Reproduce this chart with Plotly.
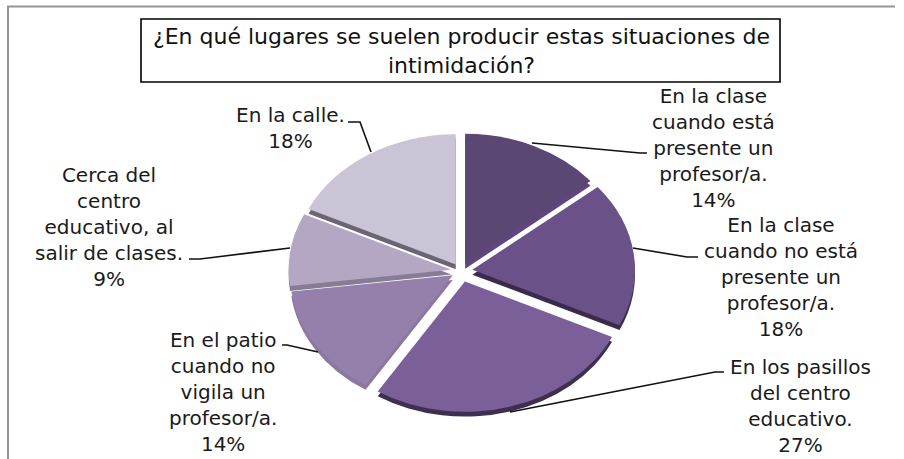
import plotly.graph_objects as go

W, H = 904, 459

# --- data ---
categories = [
    "En la clase cuando está presente un profesor/a.",
    "En la clase cuando no está presente un profesor/a.",
    "En los pasillos del centro educativo.",
    "En el patio cuando no vigila un profesor/a.",
    "Cerca del centro educativo, al salir de clases.",
    "En la calle.",
]
percentages = [14, 18, 27, 14, 9, 18]
wrapped_labels = [
    "En la clase<br>cuando está<br>presente un<br>profesor/a.<br>14%",
    "En la clase<br>cuando no está<br>presente un<br>profesor/a.<br>18%",
    "En los pasillos<br>del centro<br>educativo.<br>27%",
    "En el patio<br>cuando no<br>vigila un<br>profesor/a.<br>14%",
    "Cerca del<br>centro<br>educativo, al<br>salir de clases.<br>9%",
    "En la calle.<br>18%",
]
title_text = "¿En qué lugares se suelen producir estas situaciones de<br>intimidación?"

# --- styling ---
face_colors = ["#5b4773", "#6a5187", "#7a5f98", "#9480ab", "#b3a7c3", "#cbc4d7"]
side_colors = ["#5f4680", "#3a2b4d", "#3d2f50", "#8a78a0", "#877b96", "#6b6475"]
pulls = [0.06, 0.07, 0.085, 0.06, 0.06, 0.06]

label_centers = [(713, 148), (781, 277), (800, 406), (223, 392), (109, 227), (290, 128)]
leaders = [
    [(532, 143), (640, 153), (647, 153)],
    [(633, 248), (687, 257), (698, 257)],
    [(510, 412), (715, 372), (724, 372)],
    [(318, 352), (287, 345), (282, 345)],
    [(290, 248), (200, 259), (189, 259)],
    [(371, 152), (360, 122), (348, 122)],
]

CX, CY = 461, 271      # pie centre in pixels
SQUASH = 0.80          # the reference pie is drawn in perspective
DIAM = 353             # pie domain size before squashing
DEPTH = 6              # thickness of the pie edge


def dom(cx, cy):
    return dict(
        x=[(cx - DIAM / 2) / W, (cx + DIAM / 2) / W],
        y=[1 - (cy + DIAM / 2) / H, 1 - (cy - DIAM / 2) / H],
    )


fig = go.Figure()
for colors, cy in ((side_colors, CY + DEPTH), (face_colors, CY)):
    fig.add_trace(go.Pie(
        labels=categories, values=percentages, sort=False, direction="clockwise",
        rotation=0, pull=pulls, textinfo="none", hoverinfo="label+percent",
        marker=dict(colors=colors, line=dict(width=0)),
        domain=dom(CX, cy), showlegend=False,
    ))

font = dict(family="DejaVu Sans, sans-serif", size=20, color="#1a1a1a")
ann = [dict(text=t, x=c[0] / W, y=1 - c[1] / H, xref="paper", yref="paper",
            xanchor="center", yanchor="middle", align="center", showarrow=False, font=font)
       for t, c in zip(wrapped_labels, label_centers)]
ann.append(dict(text=title_text, x=461 / W, y=1 - 51 / H, xref="paper", yref="paper",
                xanchor="center", yanchor="middle", align="center", showarrow=False,
                font=dict(family="DejaVu Sans, sans-serif", size=22, color="#111111")))


def px_path(points):
    return "M " + " L ".join(f"{x / W:.5f},{1 - y / H:.5f}" for x, y in points)


shapes = [dict(type="path", path=px_path(p), xref="paper", yref="paper",
               line=dict(color="#111111", width=1.6)) for p in leaders]
shapes.append(dict(type="rect", x0=141 / W, x1=780 / W, y0=1 - 82 / H, y1=1 - 19 / H,
                   xref="paper", yref="paper", line=dict(color="#000000", width=1.6),
                   fillcolor="white"))
shapes.append(dict(type="path", path=px_path([(8, 459), (8, 6.5), (895, 6.5)]),
                   xref="paper", yref="paper", line=dict(color="#969696", width=2)))

fig.update_layout(
    width=W, height=H, autosize=False, margin=dict(l=0, r=0, t=0, b=0),
    paper_bgcolor="white", plot_bgcolor="white",
    annotations=ann, shapes=shapes,
)

post = f"""
document.body.style.margin = '0';
document.querySelectorAll('.pielayer').forEach(function(g) {{
  g.setAttribute('transform', 'translate(0,{CY * (1 - SQUASH):.2f}) scale(1,{SQUASH})');
}});
"""
fig.write_html("out.html", post_script=post, config={"displayModeBar": False})
